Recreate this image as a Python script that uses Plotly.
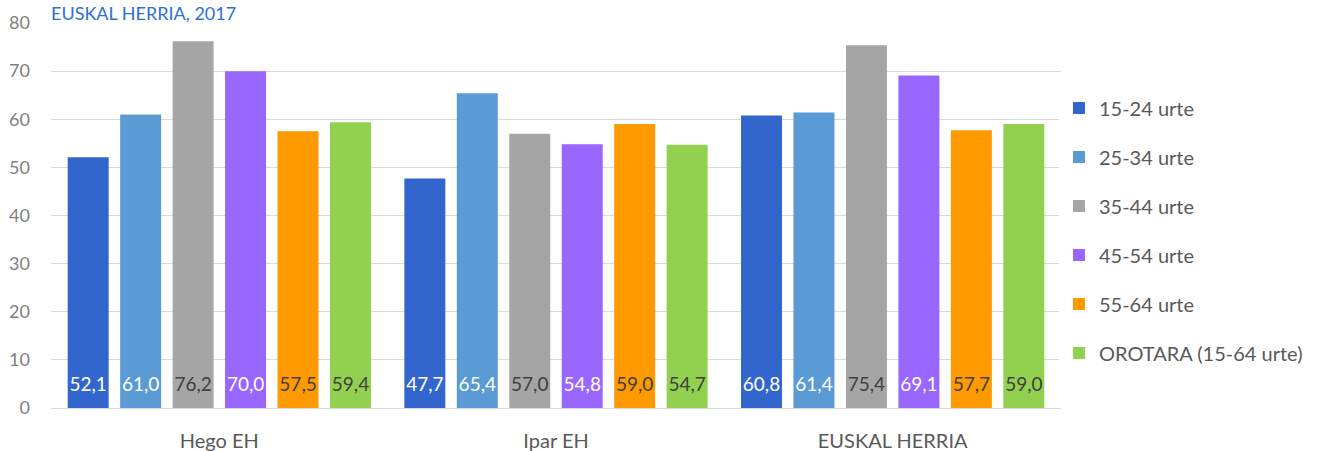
import plotly.graph_objects as go

categories = ["Hego EH", "Ipar EH", "EUSKAL HERRIA"]
series_names = ["15-24 urte", "25-34 urte", "35-44 urte", "45-54 urte", "55-64 urte", "OROTARA (15-64 urte)"]
v_15_24 = [52.1, 47.7, 60.8]
v_25_34 = [61.0, 65.4, 61.4]
v_35_44 = [76.2, 57.0, 75.4]
v_45_54 = [70.0, 54.8, 69.1]
v_55_64 = [57.5, 59.0, 57.7]
v_total = [59.4, 54.7, 59.0]
series_values = [v_15_24, v_25_34, v_35_44, v_45_54, v_55_64, v_total]
title_text = "EUSKAL HERRIA, 2017"

colors = ["#3366CC", "#5B9BD5", "#A5A5A5", "#9966FF", "#FF9900", "#92D050"]
label_colors = ["#FFFFFF", "#FFFFFF", "#404040", "#FFFFFF", "#404040", "#404040"]

FONT = "Lato"
BASE_TXT = 9

fig = go.Figure()
for i, (name, vals) in enumerate(zip(series_names, series_values)):
    labels = [f"{v:.1f}".replace(".", ",") for v in vals]
    fig.add_trace(go.Bar(
        x=categories, y=vals, name=name,
        marker=dict(color=colors[i], line=dict(width=0)),
        text=[f"<span style='font-size:19px'>{t}</span><br> " for t in labels],
        textposition="inside", insidetextanchor="start", textangle=0,
        insidetextfont=dict(color=label_colors[i], size=BASE_TXT, family=FONT),
        legendgroup=name, hoverinfo="x+y+name",
    ))

fig.update_layout(
    width=1317, height=451,
    margin=dict(l=51, r=256, t=23, b=43, autoexpand=False),
    paper_bgcolor="white", plot_bgcolor="white",
    barmode="group", bargap=0.065, bargroupgap=0.219,
    font=dict(family=FONT, color="#595959", size=17),
    uniformtext=dict(minsize=BASE_TXT, mode="show"),
    xaxis=dict(showgrid=False, showline=False, ticks="", ticklabelstandoff=19, automargin=False,
               tickfont=dict(size=20, color="#595959")),
    yaxis=dict(range=[0, 80], dtick=10, showgrid=True, gridcolor="#D9D9D9", gridwidth=1.2,
               zeroline=True, zerolinecolor="#D9D9D9", zerolinewidth=1.2, automargin=False,
               tickfont=dict(size=18, color="#7F7F7F"), ticks="", ticklabelstandoff=20),
    legend=dict(x=0.998, y=0.461, yanchor="middle", xanchor="left",
                font=dict(size=20, color="#595959", family=FONT),
                tracegroupgap=20, itemwidth=30, traceorder="grouped"),
    showlegend=True,
    annotations=[dict(text=title_text, xref="paper", yref="paper",
                      x=0, y=1, xanchor="left", yanchor="top", xshift=-2, yshift=23,
                      showarrow=False, font=dict(size=18, color="#2E6FD8", family=FONT))],
)

fig.write_html("out.html", config={"displayModeBar": False},
               post_script="document.body.style.margin='0';")
